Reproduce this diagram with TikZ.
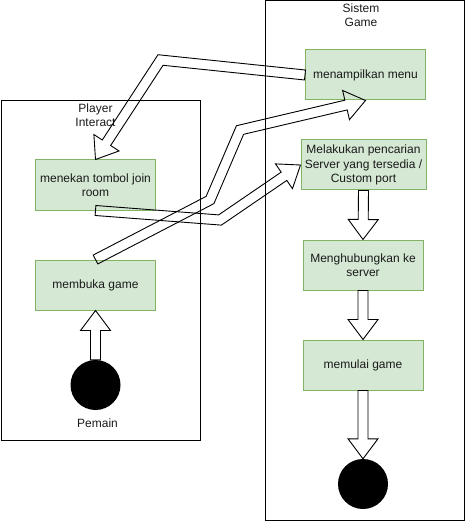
\documentclass[tikz,border=0pt]{standalone}
\usepackage{fontspec}
\setmainfont{Liberation Sans}
\usetikzlibrary{calc}
\definecolor{boxfill}{HTML}{D5E8D4}
\definecolor{boxline}{HTML}{82B366}
\definecolor{txt}{HTML}{1A1A1A}

\newcommand{\segoff}[3]{%
  \coordinate (#1la) at ($(#2)!5pt!90:(#3)$);
  \coordinate (#1lb) at ($(#3)!5pt!-90:(#2)$);
  \coordinate (#1ra) at ($(#2)!5pt!-90:(#3)$);
  \coordinate (#1rb) at ($(#3)!5pt!90:(#2)$);
}
\newcommand{\headpts}[2]{% #1 = previous point, #2 = tip
  \coordinate (hB) at ($(#2)!20pt!(#1)$);
  \coordinate (hL) at ($(hB)!15pt!90:(#2)$);
  \coordinate (hR) at ($(hB)!15pt!-90:(#2)$);
}
\newcommand{\flexA}[2]{%
  \headpts{#1}{#2}
  \segoff{sa}{#1}{hB}
  \draw[flexline] (sala) -- (salb) -- (hL) -- (#2) -- (hR) -- (sarb) -- (sara) -- cycle;
}
\newcommand{\flexB}[3]{%
  \headpts{#2}{#3}
  \segoff{sa}{#1}{#2}
  \segoff{sb}{#2}{hB}
  \coordinate (cal) at (intersection of sala--salb and sbla--sblb);
  \coordinate (car) at (intersection of sara--sarb and sbra--sbrb);
  \draw[flexline] (sala) -- (cal) -- (sblb) -- (hL) -- (#3) -- (hR) -- (sbrb) -- (car) -- (sara) -- cycle;
}
\newcommand{\flexC}[4]{%
  \headpts{#3}{#4}
  \segoff{sa}{#1}{#2}
  \segoff{sb}{#2}{#3}
  \segoff{sc}{#3}{hB}
  \coordinate (cal) at (intersection of sala--salb and sbla--sblb);
  \coordinate (car) at (intersection of sara--sarb and sbra--sbrb);
  \coordinate (cbl) at (intersection of sbla--sblb and scla--sclb);
  \coordinate (cbr) at (intersection of sbra--sbrb and scra--scrb);
  \draw[flexline] (sala) -- (cal) -- (cbl) -- (sclb) -- (hL) -- (#4) -- (hR) -- (scrb) -- (cbr) -- (car) -- (sara) -- cycle;
}

\begin{document}
\begin{tikzpicture}[x=1pt,y=-1pt,
  every node/.style={font=\fontsize{12}{14.4}\selectfont, text=txt},
  actbox/.style={draw=boxline, fill=boxfill, line width=1pt, minimum width=120pt, minimum height=50pt, align=center, inner sep=2pt},
  container/.style={draw=black, line width=1pt},
  dot/.style={circle, fill=black, minimum size=50pt, inner sep=0pt},
  flexline/.style={draw=black, line width=0.9pt, line join=miter}]
\useasboundingbox (0,0) rectangle (466,521);

% containers
\draw[container] (1,100.5) rectangle (200.5,440.5);
\draw[container] (265.5,1) rectangle (464.5,520);
\node[align=center] (ttlP) at (95.5,115.5) {Player\\Interact};
\node[align=center] (ttlS) at (361,15.5) {Sistem\\Game};

% activity boxes
\node[actbox] (menu) at (365.5,75) {menampilkan menu};
\node[actbox, minimum width=125pt] (cari) at (363.5,165) {Melakukan pencarian\\Server yang tersedia /\\Custom port};
\node[actbox] (hub) at (363,265) {Menghubungkan ke\\server};
\node[actbox] (mulai) at (363,365) {memulai game};
\node[actbox] (join) at (95.5,185) {menekan tombol join\\room};
\node[actbox] (buka) at (95.5,285) {membuka game};

% start / end
\node[dot] (start) at (95.5,385) {};
\node (pemain) at (97.5,423) {Pemain};
\node[dot] (end) at (363,484) {};

% waypoints
\coordinate (w1) at (160.5,60);
\coordinate (w2) at (210,200);
\coordinate (w3) at (240,130);
\coordinate (w4) at (220,220);

% connectors
\flexA{start.north}{buka.south}
\flexA{cari.south}{hub.north}
\flexA{hub.south}{mulai.north}
\flexA{mulai.south}{end.north}
\flexB{menu.west}{w1}{join.north}
\flexC{buka.north}{w2}{w3}{menu.south}
\flexB{join.south}{w4}{cari.west}
\end{tikzpicture}
\end{document}
